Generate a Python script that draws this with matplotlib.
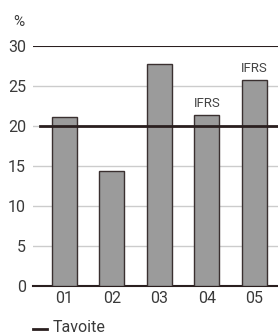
import matplotlib; matplotlib.use("Agg")
import matplotlib.pyplot as plt
from matplotlib.lines import Line2D

# data
years = ["01", "02", "03", "04", "05"]
values = [21.2, 14.4, 27.8, 21.4, 25.8]
notes = ["", "", "", "IFRS", "IFRS"]
target = 20
yticks = [0, 5, 10, 15, 20, 25, 30]

plt.rcParams["font.family"] = ["Roboto", "DejaVu Sans"]
TXT = "#3a3a3a"
W, H = 278, 336

fig = plt.figure(figsize=(2.78, 3.36), dpi=100)
ax = fig.add_axes([33/W, 50.3/H, 245/W, 239.4/H])

x = list(range(len(years)))
ax.bar(x, values, width=0.53, color="#9b9b9b", edgecolor="#3a3030", linewidth=1.0, zorder=3)
for xi, v, n in zip(x, values, notes):
    if n:
        ax.text(xi, v + 0.6, n, ha="center", va="bottom", fontsize=9.5, color="#444444")

ax.set_xlim(-0.66, 4.5)
ax.set_ylim(0, 30)
ax.set_yticks(yticks)
ax.set_xticks(x, years)
for g in yticks[1:-1]:
    ax.axhline(g, color="#cccccc", lw=1.0, zorder=1)
ax.axhline(30, color="#2a1f1f", lw=1.5, zorder=4)
ax.axhline(target, xmin=(40-33)/245, color="#2a1f1f", lw=2.0, zorder=5)

for s in ["top", "right", "left"]:
    ax.spines[s].set_visible(False)
ax.spines["bottom"].set_color("#2a1f1f")
ax.spines["bottom"].set_linewidth(1.5)
ax.tick_params(axis="y", length=0, pad=5, labelsize=11.5, labelcolor=TXT)
ax.tick_params(axis="x", length=0, pad=4, labelsize=11.5, labelcolor=TXT)

fig.text(19/W, 1 - 22.5/H, "%", ha="center", va="center", fontsize=11, color=TXT)

# legend: Tavoite
fig.add_artist(Line2D([33/W, 47/W], [1 - 329/H, 1 - 329/H], color="#2a1f1f", lw=2.0))
fig.text(53/W, 1 - 335/H, "Tavoite", ha="left", va="bottom", fontsize=11.5, color=TXT)

fig.savefig("out.png", dpi=100)
